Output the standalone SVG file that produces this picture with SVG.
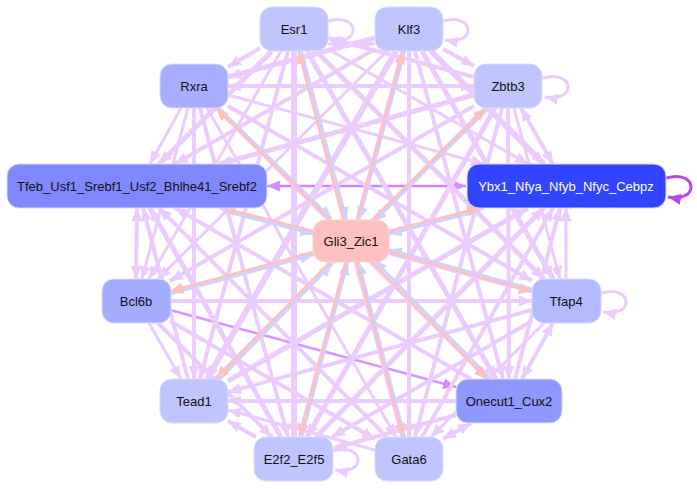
<svg xmlns="http://www.w3.org/2000/svg" width="697" height="489" viewBox="0 0 697 489">
<style>
.e{stroke:#eccbff;fill:none;marker-end:url(#mL)}
.bi{marker-start:url(#mL)}
.p{stroke:#ffc0c0;fill:none;stroke-width:2.6;marker-end:url(#mP)}
.q{stroke:#ccd3ff;fill:none;stroke-width:2.6;marker-end:url(#mB)}
.n rect{stroke:#d8dcff;stroke-width:1}
.n text{font-family:"Liberation Sans",Arial,sans-serif;font-size:13px;text-anchor:middle;dominant-baseline:central;fill:#111}
</style>
<defs>
<marker id="mL" markerUnits="userSpaceOnUse" markerWidth="13" markerHeight="11" refX="13" refY="5.5" orient="auto-start-reverse" viewBox="0 0 13 11"><path d="M0,0L13,5.5L0,11z" fill="#eccbff"/></marker>
<marker id="mP" markerUnits="userSpaceOnUse" markerWidth="13" markerHeight="11" refX="13" refY="5.5" orient="auto" viewBox="0 0 13 11"><path d="M0,0L13,5.5L0,11z" fill="#ffc0c0"/></marker>
<marker id="mB" markerUnits="userSpaceOnUse" markerWidth="13" markerHeight="11" refX="13" refY="5.5" orient="auto" viewBox="0 0 13 11"><path d="M0,0L13,5.5L0,11z" fill="#ccd3ff"/></marker>
<marker id="mD" markerUnits="userSpaceOnUse" markerWidth="13" markerHeight="11" refX="13" refY="5.5" orient="auto-start-reverse" viewBox="0 0 13 11"><path d="M0,0L13,5.5L0,11z" fill="#d98cff"/></marker>
<marker id="mM" markerUnits="userSpaceOnUse" markerWidth="13" markerHeight="11" refX="13" refY="5.5" orient="auto" viewBox="0 0 13 11"><path d="M0,0L13,5.5L0,11z" fill="#bb44ee"/></marker>
</defs>
<g id="edges">
<line x1="267" y1="186" x2="466" y2="186" stroke="#d67fff" stroke-width="2.5" marker-start="url(#mD)" marker-end="url(#mD)"/>
<line x1="170" y1="310" x2="456" y2="387" stroke="#d896ff" stroke-width="2.5" marker-end="url(#mD)"/>
<line class="e bi" x1="328" y1="44" x2="375" y2="44" stroke-width="3"/>
<line class="e" x1="260" y1="48" x2="228" y2="67" stroke-width="4"/>
<line class="e" x1="474" y1="77" x2="328" y2="38" stroke-width="4"/>
<line class="e" x1="272" y1="51" x2="159" y2="164" stroke-width="5"/>
<line class="e" x1="328" y1="49" x2="528" y2="164" stroke-width="3"/>
<line class="e" x1="281" y1="51" x2="149" y2="279" stroke-width="3"/>
<line class="e" x1="316" y1="51" x2="544" y2="279" stroke-width="5"/>
<line class="e" x1="375" y1="38" x2="228" y2="77" stroke-width="5"/>
<line class="e" x1="443" y1="49" x2="474" y2="66" stroke-width="4"/>
<line class="e" x1="375" y1="49" x2="175" y2="164" stroke-width="4"/>
<line class="e" x1="431" y1="51" x2="544" y2="164" stroke-width="6"/>
<line class="e" x1="387" y1="51" x2="158" y2="279" stroke-width="3"/>
<line class="e bi" x1="228" y1="86" x2="474" y2="86" stroke-width="4"/>
<line class="e" x1="181" y1="108" x2="150" y2="164" stroke-width="3"/>
<line class="e" x1="228" y1="95" x2="484" y2="164" stroke-width="3"/>
<line class="e" x1="188" y1="108" x2="142" y2="279" stroke-width="3"/>
<line class="e" x1="228" y1="106" x2="532" y2="281" stroke-width="4"/>
<line class="e" x1="474" y1="95" x2="219" y2="164" stroke-width="5"/>
<line class="e bi" x1="521" y1="108" x2="553" y2="164" stroke-width="4"/>
<line class="e" x1="474" y1="106" x2="170" y2="281" stroke-width="4"/>
<line class="e" x1="514" y1="108" x2="560" y2="279" stroke-width="3"/>
<line class="e bi" x1="137" y1="208" x2="136" y2="279" stroke-width="4"/>
<line class="e" x1="219" y1="208" x2="532" y2="292" stroke-width="3"/>
<line class="e" x1="484" y1="208" x2="170" y2="292" stroke-width="4"/>
<line class="e" x1="566" y1="279" x2="566" y2="208" stroke-width="3"/>
<line class="e" x1="170" y1="301" x2="532" y2="301" stroke-width="4"/>
<line class="e" x1="288" y1="51" x2="200" y2="379" stroke-width="4"/>
<line class="e" x1="307" y1="51" x2="496" y2="379" stroke-width="5"/>
<line class="e" x1="294" y1="51" x2="294" y2="437" stroke-width="6"/>
<line class="e" x1="300" y1="51" x2="403" y2="437" stroke-width="5"/>
<line class="e" x1="422" y1="51" x2="553" y2="279" stroke-width="5"/>
<line class="e" x1="396" y1="51" x2="207" y2="379" stroke-width="6"/>
<line class="e" x1="415" y1="51" x2="503" y2="379" stroke-width="4"/>
<line class="e" x1="403" y1="51" x2="300" y2="437" stroke-width="5"/>
<line class="e" x1="409" y1="51" x2="409" y2="437" stroke-width="4"/>
<line class="e" x1="194" y1="108" x2="194" y2="379" stroke-width="4"/>
<line class="e" x1="216" y1="108" x2="487" y2="379" stroke-width="3"/>
<line class="e" x1="200" y1="108" x2="288" y2="437" stroke-width="4"/>
<line class="e" x1="207" y1="108" x2="396" y2="437" stroke-width="3"/>
<line class="e" x1="486" y1="108" x2="216" y2="379" stroke-width="5"/>
<line class="e" x1="508" y1="108" x2="509" y2="379" stroke-width="4"/>
<line class="e" x1="495" y1="108" x2="307" y2="437" stroke-width="5"/>
<line class="e" x1="502" y1="108" x2="415" y2="437" stroke-width="4"/>
<line class="e" x1="188" y1="379" x2="143" y2="208" stroke-width="4"/>
<line class="e" x1="471" y1="379" x2="175" y2="208" stroke-width="4"/>
<line class="e" x1="281" y1="437" x2="150" y2="208" stroke-width="5"/>
<line class="e" x1="387" y1="437" x2="159" y2="208" stroke-width="4"/>
<line class="e" x1="228" y1="381" x2="528" y2="208" stroke-width="5"/>
<line class="e" x1="515" y1="379" x2="560" y2="208" stroke-width="4"/>
<line class="e" x1="316" y1="437" x2="544" y2="208" stroke-width="5"/>
<line class="e" x1="422" y1="437" x2="553" y2="208" stroke-width="4"/>
<line class="e" x1="149" y1="323" x2="181" y2="379" stroke-width="3"/>
<line class="e" x1="158" y1="323" x2="272" y2="437" stroke-width="4"/>
<line class="e" x1="170" y1="321" x2="375" y2="439" stroke-width="4"/>
<line class="e" x1="532" y1="310" x2="228" y2="392" stroke-width="4"/>
<line class="e bi" x1="553" y1="323" x2="522" y2="379" stroke-width="4"/>
<line class="e" x1="532" y1="321" x2="332" y2="437" stroke-width="4"/>
<line class="e" x1="544" y1="323" x2="431" y2="437" stroke-width="3"/>
<line class="e" x1="456" y1="401" x2="228" y2="401" stroke-width="4"/>
<line class="e" x1="256" y1="437" x2="228" y2="421" stroke-width="4"/>
<line class="e" x1="375" y1="450" x2="228" y2="410" stroke-width="3"/>
<line class="e" x1="456" y1="415" x2="334" y2="448" stroke-width="4"/>
<line class="e bi" x1="471" y1="423" x2="443" y2="439" stroke-width="4"/>
<path class="e" d="M328,21 C360,12 362,46 330,40" stroke-width="3"/>
<path class="e" d="M443,21 C475,12 477,46 445,40" stroke-width="3"/>
<path class="e" d="M543,78 C575,69 577,103 545,97" stroke-width="3"/>
<path class="e" d="M601,293 C633,284 635,318 603,312" stroke-width="3"/>
<path class="e" d="M333,451 C365,442 367,476 335,470" stroke-width="3"/>
<path d="M666,178 C698,169 700,203 668,197" fill="none" stroke="#bb44ee" stroke-width="3" marker-end="url(#mM)"/>
<line class="q" x1="301.5" y1="51" x2="346.5" y2="220"/>
<line class="p" x1="343.5" y1="220" x2="298.5" y2="51"/>
<line class="q" x1="405" y1="51" x2="359" y2="220"/>
<line class="p" x1="357" y1="220" x2="403" y2="51"/>
<line class="q" x1="217.5" y1="106.5" x2="331.5" y2="218.5"/>
<line class="p" x1="330" y1="220" x2="216" y2="108"/>
<line class="q" x1="487.5" y1="109.5" x2="373.5" y2="221.5"/>
<line class="p" x1="372" y1="220" x2="486" y2="108"/>
<line class="q" x1="223" y1="211" x2="313" y2="234"/>
<line class="p" x1="313" y1="231" x2="223" y2="208"/>
<line class="q" x1="480" y1="211" x2="389" y2="234"/>
<line class="p" x1="389" y1="231" x2="480" y2="208"/>
<line class="q" x1="170" y1="294" x2="313" y2="255"/>
<line class="p" x1="313" y1="252" x2="170" y2="291.5"/>
<line class="q" x1="532" y1="289" x2="389" y2="249.5"/>
<line class="p" x1="389" y1="252" x2="532" y2="291.5"/>
<line class="q" x1="218" y1="381" x2="332" y2="264"/>
<line class="p" x1="330" y1="262" x2="216" y2="379"/>
<line class="q" x1="489" y1="377" x2="374" y2="260"/>
<line class="p" x1="372" y1="262" x2="487" y2="379"/>
<line class="q" x1="302" y1="437" x2="347.5" y2="262"/>
<line class="p" x1="345.5" y1="262" x2="300" y2="437"/>
<line class="q" x1="405" y1="437" x2="358.6" y2="262"/>
<line class="p" x1="356.6" y1="262" x2="403" y2="437"/>
</g>
<g id="Esr1" class="n"><rect x="260" y="7" width="68" height="44" rx="12" fill="#c0c4ff"/><text x="294" y="29">Esr1</text></g>
<g id="Klf3" class="n"><rect x="375" y="7" width="68" height="44" rx="12" fill="#c0c4ff"/><text x="409" y="29">Klf3</text></g>
<g id="Rxra" class="n"><rect x="160" y="64" width="68" height="44" rx="12" fill="#a7aeff"/><text x="194" y="86">Rxra</text></g>
<g id="Zbtb3" class="n"><rect x="474" y="64" width="68" height="44" rx="12" fill="#c0c4ff"/><text x="508" y="86">Zbtb3</text></g>
<g id="Tfeb_Usf1_Srebf1_Usf2_Bhlhe41_Srebf2" class="n"><rect x="7" y="164" width="260" height="44" rx="12" fill="#8088ff"/><text x="137" y="186">Tfeb_Usf1_Srebf1_Usf2_Bhlhe41_Srebf2</text></g>
<g id="Ybx1_Nfya_Nfyb_Nfyc_Cebpz" class="n"><rect x="467" y="164" width="199" height="44" rx="12" fill="#3344ff" stroke="#5566ff"/><text x="566" y="186" style="fill:#fff">Ybx1_Nfya_Nfyb_Nfyc_Cebpz</text></g>
<g id="Gli3_Zic1" class="n"><rect x="313" y="220" width="76" height="42" rx="12" fill="#ffc0c0" style="stroke:#ffd0d0"/><text x="351" y="241">Gli3_Zic1</text></g>
<g id="Bcl6b" class="n"><rect x="102" y="279" width="69" height="44" rx="12" fill="#a4acff"/><text x="136" y="301">Bcl6b</text></g>
<g id="Tfap4" class="n"><rect x="532" y="279" width="69" height="44" rx="12" fill="#b3baff"/><text x="566" y="301">Tfap4</text></g>
<g id="Tead1" class="n"><rect x="160" y="379" width="68" height="44" rx="12" fill="#c0c4ff"/><text x="194" y="401">Tead1</text></g>
<g id="Onecut1_Cux2" class="n"><rect x="456" y="379" width="106" height="44" rx="12" fill="#8f98ff"/><text x="509" y="401">Onecut1_Cux2</text></g>
<g id="E2f2_E2f5" class="n"><rect x="254" y="437" width="79" height="44" rx="12" fill="#c0c4ff"/><text x="294" y="459">E2f2_E2f5</text></g>
<g id="Gata6" class="n"><rect x="375" y="437" width="68" height="44" rx="12" fill="#c0c4ff"/><text x="409" y="459">Gata6</text></g>
</svg>
